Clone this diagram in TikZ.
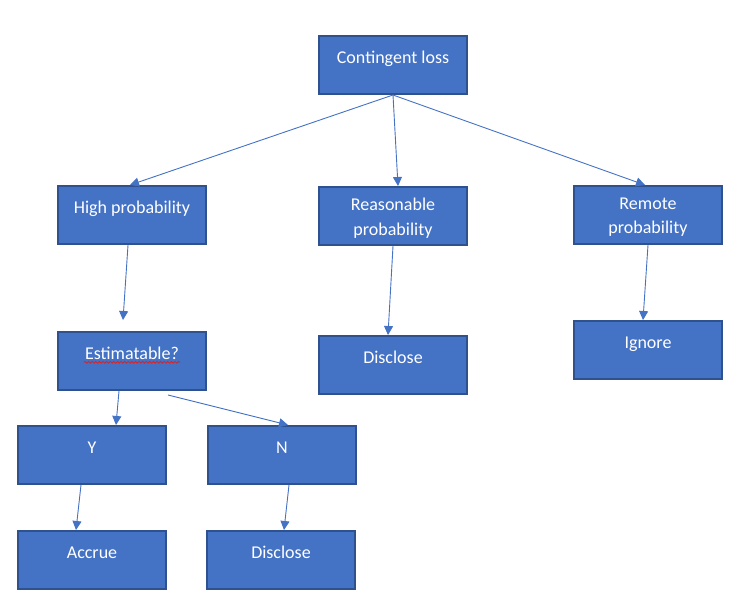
\documentclass[tikz,border=0pt]{standalone}
\usepackage{fontspec}
\setmainfont{Carlito}
\usetikzlibrary{arrows.meta,decorations.pathmorphing}
\definecolor{boxfill}{HTML}{4472C4}
\definecolor{boxline}{HTML}{2F528F}
\definecolor{arrcol}{HTML}{4472C4}
\definecolor{squig}{HTML}{E02020}
\tikzset{
  box/.style={draw=boxline,fill=boxfill,line width=2pt,minimum width=148pt,minimum height=58pt,inner sep=0pt},
  lbl/.style={text=white,font=\fontsize{18pt}{24.5pt}\selectfont,anchor=base,inner sep=0pt,align=center},
  arr/.style={draw=arrcol,line width=0.9pt,-{Triangle[length=9pt,width=9pt]}}
}
\begin{document}
\begin{tikzpicture}[x=1pt,y=-1pt]
\useasboundingbox (0,0) rectangle (741,597);
% boxes
\node[box] (cl) at (393,65) {};
\node[box] (hp) at (132,215) {};
\node[box] (rp) at (393,216) {};
\node[box] (rem) at (648,215) {};
\node[box] (est) at (132,361) {};
\node[box] (dis1) at (393,365) {};
\node[box] (ign) at (648,350) {};
\node[box] (y) at (92,455) {};
\node[box] (n) at (282,455) {};
\node[box] (acc) at (92,560) {};
\node[box] (dis2) at (281,560) {};
% texts
\node[lbl] (clt) at ([yshift=-28.3pt]cl.north) {Contingent loss};
\node[lbl] (hpt) at ([yshift=-28.3pt]hp.north) {High probability};
\node[lbl] (rpt) at ([yshift=-24.3pt]rp.north) {Reasonable};
\node[lbl] (rpt2) at ([yshift=-49pt]rp.north) {probability};
\node[lbl] (remt) at ([yshift=-24.3pt]rem.north) {Remote};
\node[lbl] (remt2) at ([yshift=-48.5pt]rem.north) {probability};
\node[lbl] (estt) at ([yshift=-28pt]est.north) {Estimatable?};
\node[lbl] (dis1t) at ([yshift=-28.4pt]dis1.north) {Disclose};
\node[lbl] (ignt) at ([yshift=-28.3pt]ign.north) {Ignore};
\node[lbl] (yt) at ([yshift=-28.5pt]y.north) {Y};
\node[lbl] (nt) at ([yshift=-28.5pt]n.north) {N};
\node[lbl] (acct) at ([yshift=-28pt]acc.north) {Accrue};
\node[lbl] (dis2t) at ([yshift=-28pt]dis2.north) {Disclose};
% spell-check squiggle
\draw[squig,line width=0.8pt,decorate,decoration={snake,amplitude=0.9pt,segment length=3.6pt}]
  ([xshift=-1pt,yshift=-3.3pt]estt.base west) -- ([xshift=1pt,yshift=-3.3pt]estt.base east);
% connectors
\draw[arr] (cl.south) -- ([xshift=-2pt]hp.north);
\draw[arr] (cl.south) -- ([xshift=5pt]rp.north);
\draw[arr] (cl.south) -- ([xshift=-3pt]rem.north);
\draw[arr] ([xshift=-4pt]hp.south) -- ([xshift=-9pt,yshift=11pt]est.north);
\draw[arr] (rp.south) -- ([xshift=-5pt]dis1.north);
\draw[arr] (rem.south) -- ([xshift=-5pt]ign.north);
\draw[arr] ([xshift=-13pt]est.south) -- ([xshift=24pt]y.north);
\draw[arr] ([xshift=36pt,yshift=-4pt]est.south) -- ([xshift=6pt]n.north);
\draw[arr] ([xshift=-11pt]y.south) -- ([xshift=-16pt]acc.north);
\draw[arr] ([xshift=7pt]n.south) -- ([xshift=3pt]dis2.north);
\end{tikzpicture}
\end{document}
